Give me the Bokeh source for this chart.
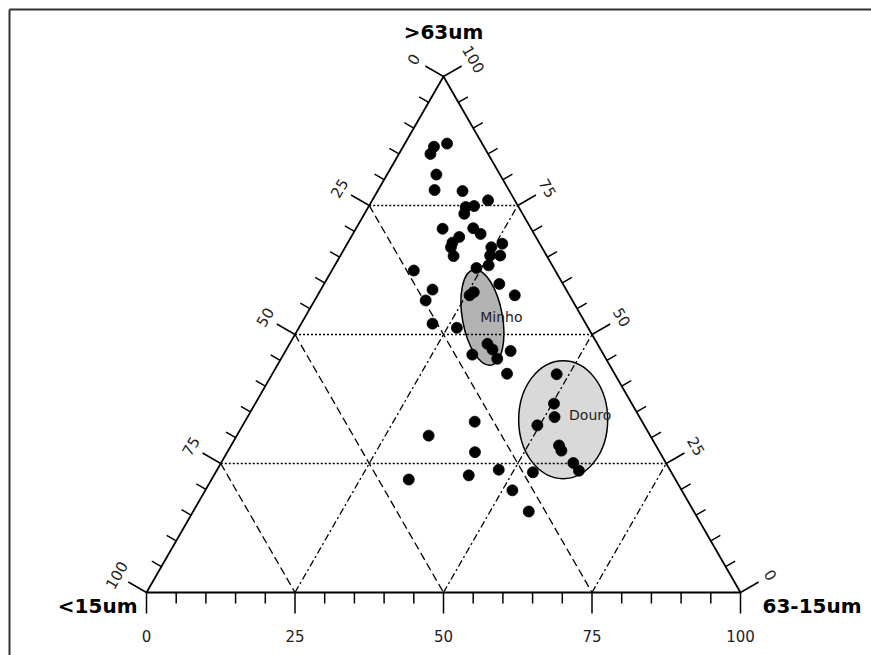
import math
from bokeh.plotting import figure
from bokeh.models import Range1d, ColumnDataSource
from bokeh.embed import file_html
from bokeh.resources import INLINE
from bokeh.core.properties import value

# ---------------- data (percent) ----------------
# >63um (sand) and 63-15um (silt); <15um = 100 - sand - silt
sand = [87.0, 86.4, 85.0, 81.0, 78.0, 77.8, 76.0, 74.7, 74.9, 73.4,
        70.5, 70.6, 69.5, 68.9, 67.8, 66.9, 65.2, 67.6, 66.9, 65.3,
        65.3, 63.4, 62.9, 62.4, 58.7, 56.6, 58.2, 57.6, 59.8, 57.6,
        52.1, 51.3, 48.2, 47.1, 45.3, 46.1, 46.8, 42.4, 42.3, 36.6,
        34.0, 32.4, 28.5, 27.5, 25.1, 23.6, 23.3, 30.4, 33.1, 27.2,
        23.8, 22.7, 21.9, 19.8, 15.7]
silt = [7.1, 5.2, 5.3, 8.3, 9.5, 14.3, 19.5, 16.4, 17.7, 16.8,
        14.6, 19.7, 21.5, 18.2, 17.6, 17.8, 19.1, 26.1, 24.6, 25.2,
        26.9, 25.9, 24.1, 13.8, 18.8, 18.7, 26.0, 25.6, 29.5, 33.2,
        22.1, 26.6, 33.3, 34.7, 36.4, 31.8, 37.9, 39.5, 47.9, 50.3,
        51.7, 49.6, 55.2, 56.1, 59.3, 61.0, 53.4, 32.3, 38.7, 41.7,
        47.4, 42.9, 33.2, 51.7, 56.5]
clay = [round(100 - s - t, 1) for s, t in zip(sand, silt)]

tick_values = list(range(0, 101, 5))
major_values = [0, 25, 50, 75, 100]
grid_levels = [25, 50, 75]

corner_titles = [">63um", "<15um", "63-15um"]

# fields drawn as ellipses: name, centre (sand, silt)
field_names = ["Minho", "Douro"]
field_sand = [53.3, 33.5]
field_silt = [29.9, 53.4]

# ---------------- layout ----------------
W, H = 871, 655
SX, SY = 5.94, 5.16          # pixels per percent
OX, OY = 146, 592            # pixel of the <15um corner
XMIN, XMAX = -OX / SX, (W - OX) / SX
YMIN, YMAX = -(H - OY) / SY, OY / SY


def xy(s, t):
    """sand, silt -> plot coords"""
    return t + s / 2.0, s


def px(dx, dy):
    """screen pixel offset (right, up) -> data offset"""
    return dx / SX, dy / SY


p = figure(width=W, height=H, output_backend="svg", toolbar_location=None,
           x_range=Range1d(XMIN, XMAX), y_range=Range1d(YMIN, YMAX),
           x_axis_location=None, y_axis_location=None,
           min_border=0, min_border_left=0, min_border_right=0,
           min_border_top=0, min_border_bottom=0)
p.outline_line_color = None
p.grid.visible = False
p.background_fill_color = "white"
p.border_fill_color = "white"

# frame (left and top edges only)
fx, _ = px(9 - OX, 0)
_, fy = px(0, OY - 9)
p.segment(x0=[fx, fx], y0=[YMIN - 2, fy], x1=[fx, XMAX + 2], y1=[fy, fy],
          line_color="#333333", line_width=2)

# ellipse fields
fx_c, fy_c = zip(*[xy(s, t) for s, t in zip(field_sand, field_silt)])
p.ellipse(x=[fx_c[0]], y=[fy_c[0]], width=40, height=97, angle=0.18,
          width_units="screen", height_units="screen",
          fill_color="#b3b3b3", line_color="black", line_width=1.5)
p.ellipse(x=[fx_c[1]], y=[fy_c[1]], width=89, height=118,
          width_units="screen", height_units="screen",
          fill_color="#d9d9d9", line_color="black", line_width=1.5)

# grid lines
dot_x, dot_y, dash_x, dash_y, dd_x, dd_y = [], [], [], [], [], []
for g in grid_levels:
    a = xy(g, 0); b = xy(g, 100 - g)
    dot_x.append([a[0], b[0]]); dot_y.append([a[1], b[1]])
    a = xy(100 - g, 0); b = xy(0, 100 - g)
    dash_x.append([a[0], b[0]]); dash_y.append([a[1], b[1]])
    a = xy(0, g); b = xy(100 - g, g)
    dd_x.append([a[0], b[0]]); dd_y.append([a[1], b[1]])
p.multi_line(dot_x, dot_y, line_color="black", line_width=1.5, line_dash="2 2")
p.multi_line(dash_x, dash_y, line_color="black", line_width=1.3, line_dash="8 4")
p.multi_line(dd_x, dd_y, line_color="black", line_width=1.3, line_dash="7 3 2 3")

# triangle
corners = [xy(0, 0), xy(0, 100), xy(100, 0), xy(0, 0)]
p.line([c[0] for c in corners], [c[1] for c in corners], line_color="black", line_width=1.8)

# ticks
c30, s30 = math.cos(math.radians(30)), math.sin(math.radians(30))
tx, ty = [], []
lab_x, lab_y, lab_t, lab_a = [], [], [], []
bx, by, bt = [], [], []
for v in tick_values:
    L = 21 if v in major_values else 11
    x0, y0 = xy(0, v)
    dx, dy = px(0, -L)
    tx.append([x0, x0 + dx]); ty.append([y0, y0 + dy])
    x0, y0 = xy(100 - v, 0)
    dx, dy = px(-c30 * L, s30 * L)
    tx.append([x0, x0 + dx]); ty.append([y0, y0 + dy])
    x0, y0 = xy(v, 100 - v)
    dx, dy = px(c30 * L, s30 * L)
    tx.append([x0, x0 + dx]); ty.append([y0, y0 + dy])
p.multi_line(tx, ty, line_color="black", line_width=1.5)

D = 35
for v in major_values:
    x0, y0 = xy(0, v)
    dx, dy = px(0, -43)
    bx.append(x0 + dx); by.append(y0 + dy); bt.append(str(v))
    x0, y0 = xy(100 - v, 0)
    dx, dy = px(-c30 * D, s30 * D)
    lab_x.append(x0 + dx); lab_y.append(y0 + dy); lab_t.append(str(v)); lab_a.append(math.radians(60))
    x0, y0 = xy(v, 100 - v)
    dx, dy = px(c30 * D, s30 * D)
    lab_x.append(x0 + dx); lab_y.append(y0 + dy); lab_t.append(str(v)); lab_a.append(math.radians(-60))

p.text(x=bx, y=by, text=bt, text_font=value("DejaVu Sans"), text_font_size="15px",
       text_color="#222222", text_align="center", text_baseline="middle")
p.text(x=lab_x, y=lab_y, text=lab_t, angle=lab_a, text_font=value("DejaVu Sans"),
       text_font_size="15px", text_color="#222222", text_align="center", text_baseline="middle")

# points
pts = [xy(s, t) for s, t in zip(sand, silt)]
src = ColumnDataSource(dict(x=[q[0] for q in pts], y=[q[1] for q in pts],
                            sand=sand, silt=silt, clay=clay))
p.scatter("x", "y", source=src, size=11, fill_color="black", line_color="black", line_width=0.8)

# field labels
p.text(x=[fx_c[0] + px(19, 0)[0]], y=[fy_c[0]], text=[field_names[0]],
       text_font=value("DejaVu Sans"), text_font_size="14px", text_color="#222222",
       text_align="center", text_baseline="middle")
p.text(x=[fx_c[1] + px(27, 0)[0]], y=[fy_c[1] + px(0, 5)[1]], text=[field_names[1]],
       text_font=value("DejaVu Sans"), text_font_size="14px", text_color="#222222",
       text_align="center", text_baseline="middle")

# corner titles
tops = [(50, (OY - 31) / SY, "center"),
        ((137 - OX) / SX, (OY - 605) / SY, "right"),
        ((762 - OX) / SX, (OY - 605) / SY, "left")]
for (x, y, al), t in zip(tops, corner_titles):
    p.text(x=[x], y=[y], text=[t], text_font=value("DejaVu Sans"), text_font_size="20px",
           text_font_style="bold", text_color="black", text_align=al, text_baseline="middle")

open("out.html", "w").write(file_html(p, INLINE))
